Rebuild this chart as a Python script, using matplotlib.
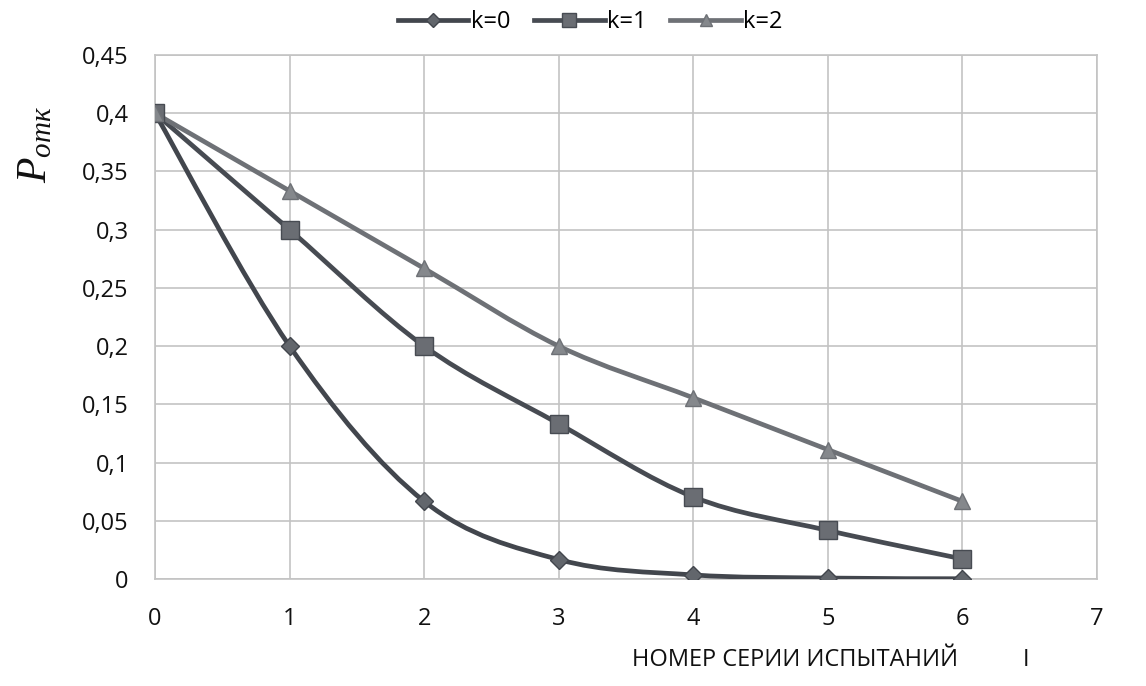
import numpy as np
import matplotlib.pyplot as plt
from matplotlib.path import Path
from matplotlib.patches import PathPatch
from matplotlib.lines import Line2D

plt.rcParams['mathtext.fontset'] = 'custom'
plt.rcParams['mathtext.it'] = 'Liberation Serif:italic'
plt.rcParams['mathtext.rm'] = 'Liberation Serif'

x = [0, 1, 2, 3, 4, 5, 6]
k0 = [0.4, 0.2, 0.0667, 0.0167, 0.0035, 0.0008, 0.0002]
k1 = [0.4, 0.3, 0.2, 0.1333, 0.0705, 0.0417, 0.0172]
k2 = [0.4, 0.3333, 0.2667, 0.2, 0.1556, 0.1111, 0.0667]

names = ["k=0", "k=1", "k=2"]
series = [k0, k1, k2]
line_colors = ["#42464d", "#474b52", "#6e7176"]
face_colors = ["#62666c", "#6a6d73", "#85888c"]
markers = ["D", "s", "^"]
msizes = [9, 13, 12]

y_ticks = [0, 0.05, 0.1, 0.15, 0.2, 0.25, 0.3, 0.35, 0.4, 0.45]
y_labels = ["0", "0,05", "0,1", "0,15", "0,2", "0,25", "0,3", "0,35", "0,4", "0,45"]
x_ticks = [0, 1, 2, 3, 4, 5, 6, 7]


def smooth_path(xs, ys):
    # excel-like smoothed line: bezier segments between the points
    pts = np.column_stack([xs, ys]).astype(float)
    n = len(pts)
    verts = [pts[0]]
    codes = [Path.MOVETO]
    for i in range(n - 1):
        p0 = pts[max(i - 1, 0)]
        p1 = pts[i]
        p2 = pts[i + 1]
        p3 = pts[min(i + 2, n - 1)]
        c1 = p1 + (p2 - p0) / 6
        c2 = p2 - (p3 - p1) / 6
        verts += [c1, c2, p2]
        codes += [Path.CURVE4] * 3
    return Path(verts, codes)


fig = plt.figure(figsize=(11.46, 6.86), dpi=100)
ax = fig.add_axes([0.1353, 0.156, 0.8219, 0.7638])

handles = []
for ys, nm, lc, fc, mk, ms in zip(series, names, line_colors, face_colors, markers, msizes):
    ax.add_patch(PathPatch(smooth_path(x, ys), facecolor="none", edgecolor=lc,
                           lw=3.4, zorder=3, capstyle="round", joinstyle="round"))
    ax.plot(x, ys, linestyle="none", marker=mk, markersize=ms,
            markerfacecolor=fc, markeredgecolor=lc, markeredgewidth=1, zorder=4)
    handles.append(Line2D([], [], color=lc, lw=3.4, marker=mk, markersize=ms * 0.75,
                          markerfacecolor=fc, markeredgecolor=lc, label=nm))

ax.set_xlim(0, 7)
ax.set_ylim(0, 0.45)
ax.set_xticks(x_ticks)
ax.set_yticks(y_ticks)
ax.set_yticklabels(y_labels)
ax.grid(True, color="#c3c3c3", lw=1.2)
ax.set_axisbelow(True)
for s in ax.spines.values():
    s.set_color("#c3c3c3")
    s.set_linewidth(1.2)
ax.tick_params(length=0, labelsize=17, labelcolor="#111111",
               labelfontfamily="Open Sans")
ax.tick_params(axis="y", pad=19)
ax.tick_params(axis="x", pad=20)

fig.text(0.694, 0.038, "НОМЕР СЕРИИ ИСПЫТАНИЙ", fontsize=17, family="Open Sans",
         ha="center", va="center", color="#111111")
fig.text(0.895, 0.038, "I", fontsize=17, family="Open Sans",
         ha="center", va="center", color="#111111")
fig.text(0.03, 0.79, r"$P_{отк}$", fontsize=30, rotation=90,
         ha="center", va="center", color="#111111")

fig.legend(handles=handles, loc="center", bbox_to_anchor=(0.515, 0.968), ncol=3,
           frameon=False, handlelength=3.0, handletextpad=0.1,
           columnspacing=1.0, prop={"family": "Open Sans", "size": 17})

plt.savefig("out.png", dpi=100)
